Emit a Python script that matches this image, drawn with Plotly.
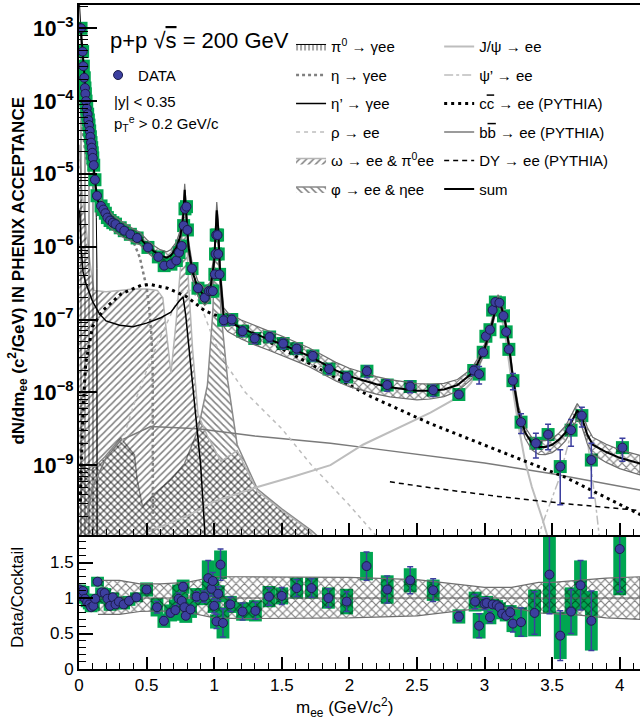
import numpy as np
import plotly.graph_objects as go

# ---------------- top panel: measured yield (log10 of dN/dm) ----------------
data_x = [0.015, 0.027, 0.032, 0.039, 0.044, 0.047, 0.052, 0.057, 0.064, 0.069,
          0.074, 0.079, 0.084, 0.089, 0.094, 0.098, 0.102, 0.109, 0.118, 0.133,
          0.163, 0.18, 0.195, 0.21, 0.23, 0.25, 0.27, 0.305, 0.335, 0.38,
          0.43, 0.51, 0.587, 0.63, 0.68, 0.72, 0.74, 0.76, 0.774, 0.784,
          0.795, 0.802, 0.836, 0.88, 0.93, 0.96, 0.975, 0.99, 1.005, 1.01,
          1.015, 1.025, 1.03, 1.04, 1.07, 1.13, 1.21, 1.30, 1.41, 1.51,
          1.61, 1.73, 1.85, 1.98, 2.13, 2.28, 2.45, 2.62, 2.81, 2.92,
          2.96, 2.99, 3.01, 3.04, 3.06, 3.08, 3.11, 3.14, 3.16, 3.18,
          3.21, 3.27, 3.38, 3.47, 3.56, 3.64, 3.72, 3.79, 4.02]
data_log10 = [-3.00, -3.32, -3.52, -3.68, -3.82, -3.90, -4.00, -4.10, -4.18, -4.26,
              -4.33, -4.41, -4.49, -4.57, -4.64, -4.71, -4.78, -4.88, -5.08, -5.30,
              -5.44, -5.49, -5.54, -5.60, -5.64, -5.67, -5.69, -5.74, -5.78, -5.83,
              -5.88, -6.01, -6.14, -6.26, -6.24, -6.19, -6.08, -5.99, -5.71, -5.48,
              -5.45, -5.77, -6.30, -6.57, -6.70, -6.61, -6.61, -6.61, -6.38, -6.10,
              -5.84, -5.84, -6.10, -6.38, -7.01, -7.00, -7.16, -7.26, -7.24, -7.33,
              -7.40, -7.50, -7.68, -7.79, -7.71, -7.90, -7.92, -7.97, -8.03, -7.70,
              -7.75, -7.45, -7.23, -7.14, -6.87, -6.76, -6.77, -6.95, -7.17, -7.41,
              -7.84, -8.41, -8.70, -8.58, -9.02, -8.52, -8.32, -8.93, -8.76]
data_relerr = [0.03] * 31 + [0.06] * 17 + [0.08] * 6 + \
              [0.15] * 10 + [0.18] * 4 + [0.08, 0.15,
               0.27, 0.10, 0.06, 0.06, 0.06, 0.06, 0.06, 0.06, 0.06, 0.08,
               0.25, 0.30, 0.37, 0.38, 0.70, 0.40, 0.30, 0.70, 0.35]

# ---------------- cocktail components (log10 of dN/dm) ----------------
pi0_x = [0.002, 0.01, 0.02, 0.03, 0.05, 0.07, 0.09, 0.11, 0.12, 0.128, 0.133, 0.135]
pi0_log10 = [-2.6, -2.95, -3.3, -3.6, -4.0, -4.3, -4.6, -4.95, -5.2, -5.6, -6.3, -11]

eta_x = [0.005, 0.02, 0.05, 0.1, 0.15, 0.2, 0.25, 0.3, 0.35, 0.4, 0.45, 0.5, 0.52, 0.535, 0.545, 0.548]
eta_log10 = [-3.7, -4.3, -4.75, -5.15, -5.42, -5.57, -5.66, -5.72, -5.8, -5.92, -6.15, -6.56, -6.85, -7.2, -7.6, -11]

etap_x = [0.005, 0.015, 0.03, 0.05, 0.1, 0.15, 0.2, 0.3, 0.4, 0.5, 0.6, 0.68, 0.74, 0.77,
          0.79, 0.82, 0.86, 0.9, 0.93, 0.95]
etap_log10 = [-5.5, -6.0, -6.35, -6.5, -6.75, -6.92, -7.02, -7.08, -7.1, -7.05, -6.98, -6.9,
              -6.75, -6.69, -6.95, -7.5, -8.2, -9.0, -9.9, -11]

rho_x = [0.3, 0.4, 0.5, 0.6, 0.7, 0.75, 0.78, 0.84, 0.9, 1.0, 1.1, 1.23, 1.5, 1.72, 2.0, 2.16, 2.4]
rho_log10 = [-8.8, -8.2, -7.7, -7.25, -6.85, -6.65, -6.6, -6.6, -6.8, -7.3, -7.65, -8.0, -8.5,
             -9.0, -9.55, -9.9, -10.4]

omega_x = [0.002, 0.02, 0.05, 0.08, 0.11, 0.2, 0.3, 0.4, 0.5, 0.58, 0.62, 0.65, 0.68, 0.72,
           0.75, 0.77, 0.782, 0.795, 0.81, 0.84, 0.88, 0.95, 1.05, 1.17, 1.32, 1.5, 1.72]
omega_log10 = [-4.6, -5.2, -5.7, -6.2, -6.6, -6.62, -6.6, -6.58, -6.58, -6.6, -6.7, -7.2, -7.74,
               -7.0, -6.3, -5.6, -5.3, -5.8, -6.5, -7.4, -8.3, -8.6, -8.95, -8.8, -9.36, -9.62, -9.92]

phi_x = [0.002, 0.09, 0.19, 0.31, 0.41, 0.43, 0.47, 0.56, 0.68, 0.78, 0.88, 0.95, 0.99, 1.005,
         1.019, 1.033, 1.05, 1.1, 1.17, 1.32, 1.5, 1.72, 1.9]
phi_log10 = [-9.0, -9.07, -8.89, -8.63, -8.86, -9.2, -9.57, -9.39, -9.2, -8.98, -8.52, -7.9,
             -6.9, -6.0, -5.5, -6.0, -6.9, -7.84, -8.72, -9.33, -9.6, -9.9, -10.2]

jpsi_x = [0.5, 0.8, 1.0, 1.32, 1.6, 1.86, 2.1, 2.4, 2.6, 2.8, 2.9, 2.98, 3.03, 3.07, 3.097,
          3.12, 3.16, 3.2, 3.25, 3.3, 3.35, 3.43, 3.5]
jpsi_log10 = [-9.92, -9.7, -9.5, -9.3, -9.15, -9.0, -8.72, -8.45, -8.28, -8.07, -7.87, -7.55,
              -7.2, -6.9, -6.8, -6.9, -7.3, -7.85, -8.45, -8.95, -9.3, -9.75, -10.2]

psip_x = [3.3, 3.44, 3.55, 3.62, 3.66, 3.686, 3.71, 3.76, 3.82, 3.88]
psip_log10 = [-10.5, -9.75, -9.2, -8.7, -8.42, -8.32, -8.42, -8.65, -9.5, -10.5]

ccbar_x = [0.01, 0.03, 0.05, 0.1, 0.175, 0.31, 0.46, 0.53, 0.655, 0.8, 0.93, 1.05, 1.3, 1.6,
           2.0, 2.16, 2.6, 3.1, 3.59, 4.13, 4.2]
ccbar_log10 = [-9.5, -8.2, -7.6, -7.1, -6.88, -6.65, -6.53, -6.52, -6.57, -6.69, -6.88, -6.97,
               -7.2, -7.5, -7.9, -8.06, -8.43, -8.8, -9.16, -9.66, -9.72]

bbbar_x = [0.05, 0.1, 0.2, 0.31, 0.53, 0.88, 1.3, 1.86, 2.16, 2.46, 3.0, 3.5, 4.13, 4.2]
bbbar_log10 = [-9.8, -9.3, -8.9, -8.66, -8.47, -8.50, -8.6, -8.70, -8.77, -8.84, -8.97, -9.12,
               -9.34, -9.36]

dy_x = [2.3, 2.6, 3.1, 3.6, 4.13, 4.2]
dy_log10 = [-9.23, -9.31, -9.43, -9.53, -9.62, -9.63]

sum_x = [0.01, 0.02, 0.03, 0.04, 0.05, 0.06, 0.07, 0.08, 0.09, 0.1, 0.11, 0.12, 0.13, 0.14,
         0.16, 0.2, 0.25, 0.3, 0.35, 0.4, 0.45, 0.5, 0.55, 0.6, 0.65, 0.68, 0.72, 0.75, 0.77,
         0.782, 0.795, 0.81, 0.84, 0.88, 0.93, 0.97, 1.0, 1.01, 1.019, 1.03, 1.045, 1.07, 1.1,
         1.2, 1.3, 1.4, 1.5, 1.6, 1.7, 1.8, 1.9, 2.0, 2.1, 2.2, 2.3, 2.4, 2.5, 2.6, 2.7, 2.8,
         2.9, 2.95, 3.0, 3.05, 3.08, 3.1, 3.12, 3.15, 3.18, 3.21, 3.25, 3.3, 3.35, 3.4, 3.45,
         3.5, 3.55, 3.6, 3.65, 3.686, 3.72, 3.76, 3.8, 3.9, 4.0, 4.15]
sum_log10 = [-2.92, -3.15, -3.45, -3.66, -3.95, -4.12, -4.27, -4.42, -4.57, -4.75, -4.93, -5.1,
             -5.27, -5.37, -5.44, -5.55, -5.66, -5.73, -5.79, -5.84, -5.88, -5.98, -6.06, -6.12,
             -6.15, -6.12, -6.02, -5.85, -5.6, -5.22, -5.6, -6.0, -6.35, -6.57, -6.68, -6.6,
             -6.2, -5.75, -5.5, -5.75, -6.4, -6.95, -7.02, -7.12, -7.2, -7.27, -7.34, -7.42, -7.5,
             -7.6, -7.7, -7.78, -7.84, -7.89, -7.93, -7.96, -7.98, -7.98, -7.96, -7.9, -7.75,
             -7.6, -7.4, -7.1, -6.85, -6.72, -6.8, -7.0, -7.35, -7.8, -8.25, -8.55, -8.7, -8.75,
             -8.75, -8.72, -8.65, -8.55, -8.38, -8.25, -8.35, -8.58, -8.72, -8.82, -8.9, -8.98]

# ---------------- bottom panel: Data/Cocktail ----------------
ratio_x = [0.005, 0.015, 0.03, 0.045, 0.06, 0.076, 0.09, 0.106, 0.12, 0.137,
           0.167, 0.19, 0.21, 0.23, 0.25, 0.27, 0.295, 0.33, 0.37, 0.425,
           0.5, 0.577, 0.628, 0.677, 0.713, 0.737, 0.76, 0.77, 0.78, 0.79,
           0.825, 0.87, 0.925, 0.956, 0.98, 0.99, 1.0, 1.017, 1.03, 1.047,
           1.065, 1.12, 1.21, 1.305, 1.405, 1.5, 1.61, 1.72, 1.845, 1.98,
           2.127, 2.28, 2.45, 2.62, 2.81, 2.93, 2.96, 3.0, 3.015, 3.04,
           3.06, 3.09, 3.11, 3.13, 3.16, 3.19, 3.21, 3.27, 3.37, 3.48,
           3.56, 3.64, 3.71, 3.79, 4.0]
ratio_val = [1.12, 1.03, 1.10, 0.99, 0.94, 0.91, 0.87, 0.89, 0.99, 1.23,
             1.08, 1.07, 0.99, 0.89, 1.01, 0.91, 0.95, 0.91, 0.96, 1.01,
             1.12, 0.87, 0.68, 0.79, 0.83, 0.99, 0.96, 1.16, 0.87, 0.75,
             0.84, 1.02, 1.02, 1.28, 1.13, 1.24, 0.89, 0.67, 1.06, 1.47,
             0.65, 0.91, 0.81, 0.82, 1.02, 1.03, 1.14, 1.14, 1.00, 0.95,
             1.45, 1.12, 1.25, 1.11, 0.74, 0.95, 0.61, 0.92, 0.93, 0.73,
             0.91, 0.90, 0.87, 0.78, 0.75, 0.80, 0.64, 0.66, 0.79, 1.33,
             0.47, 0.81, 1.18, 0.68, 1.69]
ratio_stat = [0.03] * 20 + [0.05, 0.08, 0.06, 0.05, 0.06, 0.08, 0.05, 0.06, 0.05, 0.05,
              0.06, 0.07, 0.08, 0.25, 0.1, 0.12, 0.1, 0.1, 0.1, 0.22,
              0.2, 0.1, 0.12, 0.12, 0.12, 0.12, 0.12, 0.13, 0.13, 0.14,
              0.2, 0.19, 0.19, 0.16, 0.07, 0.1, 0.17, 0.08, 0.07, 0.08,
              0.05, 0.04, 0.04, 0.05, 0.05, 0.07, 0.12, 0.2, 0.3, 0.55,
              0.35, 0.31, 0.35, 0.42, 0.6]
ratio_sys = [0.07] * 20 + [0.1, 0.13, 0.1, 0.12, 0.15, 0.2, 0.1, 0.1, 0.12, 0.1,
             0.12, 0.12, 0.12, 0.25, 0.12, 0.15, 0.1, 0.1, 0.12, 0.2,
             0.22, 0.12, 0.13, 0.15, 0.15, 0.12, 0.15, 0.15, 0.15, 0.18,
             0.2, 0.2, 0.17, 0.15, 0.1, 0.14, 0.18, 0.1, 0.1, 0.1,
             0.08, 0.07, 0.07, 0.08, 0.08, 0.1, 0.12, 0.21, 0.33, 0.55,
             0.33, 0.34, 0.35, 0.42, 0.65]

band_x = [0.14, 0.3, 0.45, 0.6, 0.8, 1.0, 1.2, 1.5, 2.0, 2.5, 2.8, 3.0, 3.2, 3.3, 3.4, 3.5, 3.7, 3.9, 4.15]
band_hi = [1.25, 1.25, 1.2, 1.2, 1.22, 1.3, 1.3, 1.3, 1.29, 1.26, 1.19, 1.15, 1.15, 1.18, 1.22, 1.22, 1.25, 1.28, 1.3]
band_lo = [0.77, 0.77, 0.81, 0.82, 0.8, 0.72, 0.71, 0.71, 0.72, 0.75, 0.82, 0.86, 0.86, 0.83, 0.79, 0.78, 0.76, 0.72, 0.7]

# ---------------- styling ----------------
FLOOR = 1e-11
GREEN = "#00a651"
BLUE = "#3c3f9f"
FONT = "Liberation Sans, Arial, Helvetica, sans-serif"


def lin(a):
    return 10 ** np.asarray(a, dtype=float)


def area(x, lg):
    xs = list(x) + [x[-1], x[0]]
    ys = list(lin(lg)) + [FLOOR, FLOOR]
    return xs, ys


fig = go.Figure()
TOP = dict(xaxis="x", yaxis="y")
BOT = dict(xaxis="x2", yaxis="y2")


def hatch(shape, size=5, sol=0.3, bg="rgba(0,0,0,0)"):
    return dict(shape=shape, fgcolor="black", bgcolor=bg, size=size, solidity=sol, fillmode="overlay")


# phi region
xs, ys = area(phi_x, phi_log10)
fig.add_trace(go.Scatter(x=xs, y=ys, mode="lines", fill="toself", fillcolor="rgba(0,0,0,0)",
                         fillpattern=hatch("\\"), line=dict(color="#8a8a8a", width=1.5),
                         name="\u03c6 \u2192 ee & \u03b7ee", legend="legend", legendrank=6,
                         legendgroup="phi", **TOP))
# omega region
xs, ys = area(omega_x, omega_log10)
fig.add_trace(go.Scatter(x=xs, y=ys, mode="lines", fill="toself", fillcolor="rgba(0,0,0,0)",
                         fillpattern=hatch("/"), line=dict(color="#b5b5b5", width=1.5),
                         name="\u03c9 \u2192 ee & \u03c0<sup>0</sup>ee", legend="legend", legendrank=5,
                         legendgroup="omega", **TOP))
# pi0 region
xs, ys = area(pi0_x, pi0_log10)
fig.add_trace(go.Scatter(x=xs, y=ys, mode="lines", fill="toself", fillcolor="rgba(0,0,0,0)",
                         fillpattern=hatch("|", size=4, sol=0.35), line=dict(color="black", width=1),
                         name="\u03c0<sup>0</sup> \u2192 \u03b3ee", legend="legend", legendrank=1,
                         legendgroup="pi0", **TOP))


def curve(x, lg, name, color, width, dash, legend, rank, grp):
    fig.add_trace(go.Scatter(x=x, y=lin(lg), mode="lines", name=name,
                             line=dict(color=color, width=width, dash=dash),
                             legend=legend, legendrank=rank, legendgroup=grp, **TOP))


curve(bbbar_x, bbbar_log10, "b<span style='text-decoration:overline'>b</span> \u2192 ee (PYTHIA)",
      "#7a7a7a", 1.5, "solid", "legend2", 4, "bb")
curve(jpsi_x, jpsi_log10, "J/\u03c8 \u2192 ee", "#bdbdbd", 2, "solid", "legend2", 1, "jpsi")
curve(psip_x, psip_log10, "\u03c8\u2019 \u2192 ee", "#bdbdbd", 1.5, "dashdot", "legend2", 2, "psip")
curve(rho_x, rho_log10, "\u03c1 \u2192 ee", "#bdbdbd", 1.5, "4px,4px", "legend", 4, "rho")
curve(eta_x, eta_log10, "\u03b7 \u2192 \u03b3ee", "#808080", 2.5, "3px,3px", "legend", 2, "eta")
curve(etap_x, etap_log10, "\u03b7\u2019 \u2192 \u03b3ee", "black", 1.5, "solid", "legend", 3, "etap")
curve(ccbar_x, ccbar_log10, "c<span style='text-decoration:overline'>c</span> \u2192 ee (PYTHIA)",
      "black", 3, "3px,4px", "legend2", 3, "cc")
curve(dy_x, dy_log10, "DY \u2192 ee (PYTHIA)", "black", 1.5, "5px,4px", "legend2", 5, "dy")

# green systematic boxes (top)
data_y = lin(data_log10)
fig.add_trace(go.Scatter(x=data_x, y=data_y, mode="markers", showlegend=False,
                         marker=dict(symbol="square", size=13, color=GREEN, line=dict(width=0)), **TOP))

# sum band (top)
sx = np.asarray(sum_x)
sy = lin(sum_log10)
m = sx >= band_x[0]
hi = sy[m] * np.interp(sx[m], band_x, band_hi)
lo = sy[m] * np.interp(sx[m], band_x, band_lo)
fig.add_trace(go.Scatter(x=list(sx[m]) + list(sx[m][::-1]), y=list(hi) + list(lo[::-1]),
                         mode="lines", fill="toself", fillcolor="rgba(0,0,0,0)",
                         fillpattern=hatch("x", size=6, sol=0.35),
                         line=dict(color="#6e6e6e", width=1.2), showlegend=False, **TOP))
# sum line
fig.add_trace(go.Scatter(x=sum_x, y=sy, mode="lines", name="sum", line=dict(color="black", width=2),
                         legend="legend2", legendrank=6, legendgroup="sum", **TOP))

# data points (top)
fig.add_trace(go.Scatter(x=data_x, y=data_y, mode="markers", name="DATA",
                         marker=dict(symbol="circle", size=9, color=BLUE, line=dict(color="#1b1b4a", width=1)),
                         error_y=dict(type="data", array=data_y * np.asarray(data_relerr), color=BLUE,
                                      thickness=1.5, width=3),
                         legend="legend3", **TOP))

# ---------------- bottom panel ----------------
rv = np.asarray(ratio_val)
rs = np.asarray(ratio_sys)
fig.add_trace(go.Bar(x=ratio_x, y=2 * rs, base=rv - rs, width=0.095, marker=dict(color=GREEN, line=dict(width=0)),
                     showlegend=False, **BOT))
fig.add_trace(go.Scatter(x=list(band_x) + list(band_x[::-1]), y=list(band_hi) + list(band_lo[::-1]),
                         mode="lines", fill="toself", fillcolor="rgba(0,0,0,0)",
                         fillpattern=hatch("x", size=6, sol=0.35),
                         line=dict(color="#6e6e6e", width=1.2), showlegend=False, **BOT))
fig.add_trace(go.Scatter(x=[band_x[0], band_x[-1]], y=[1, 1], mode="lines",
                         line=dict(color="#555", width=1), showlegend=False, **BOT))
fig.add_trace(go.Scatter(x=ratio_x, y=ratio_val, mode="markers", showlegend=False,
                         marker=dict(symbol="circle", size=9, color=BLUE, line=dict(color="#1b1b4a", width=1)),
                         error_y=dict(type="data", array=ratio_stat, color=BLUE, thickness=1.5, width=3),
                         **BOT))

axis_common = dict(showline=True, linewidth=2, linecolor="black", mirror=True, showgrid=False,
                   zeroline=False, ticks="inside", tickcolor="black", automargin=False)

fig.update_layout(
    width=640, height=722,
    margin=dict(l=79, r=0, t=5, b=53, autoexpand=False),
    plot_bgcolor="white", paper_bgcolor="white",
    font=dict(family=FONT, size=15, color="black"),
    barmode="overlay",
    xaxis=dict(domain=[0, 1], range=[0, 4.15], anchor="y", showticklabels=False,
               tick0=0, dtick=0.5, ticklen=12, tickwidth=1.5,
               minor=dict(ticks="inside", dtick=0.1, ticklen=6, tickwidth=1, tickcolor="black"),
               **axis_common),
    yaxis=dict(domain=[0.2018, 1], type="log", range=[-9.96, -2.68], anchor="x",
               dtick=1, exponentformat="power", showexponent="all",
               ticklen=18, tickwidth=1.5,
               tickfont=dict(size=17, family=FONT, weight="bold"),
               minor=dict(ticks="inside", dtick="D1", ticklen=9, tickwidth=1, tickcolor="black"),
               **axis_common),
    xaxis2=dict(domain=[0, 1], range=[0, 4.15], anchor="y2",
                tick0=0, dtick=0.5, ticklen=12, tickwidth=1.5,
                tickfont=dict(size=17, family=FONT),
                minor=dict(ticks="inside", dtick=0.1, ticklen=6, tickwidth=1, tickcolor="black"),
                **axis_common),
    yaxis2=dict(domain=[0, 0.1988], range=[0, 1.86], anchor="x2",
                tick0=0, dtick=0.5, ticklen=14, tickwidth=1.5,
                tickfont=dict(size=17, family=FONT),
                minor=dict(ticks="inside", dtick=0.1, ticklen=7, tickwidth=1, tickcolor="black"),
                **axis_common),
    legend=dict(x=0.378, y=0.962, xanchor="left", yanchor="top", bgcolor="rgba(0,0,0,0)",
                traceorder="grouped", tracegroupgap=6, font=dict(size=15, family=FONT), itemwidth=30),
    legend2=dict(x=0.642, y=0.962, xanchor="left", yanchor="top", bgcolor="rgba(0,0,0,0)",
                 traceorder="grouped", tracegroupgap=6, font=dict(size=15, family=FONT), itemwidth=30),
    legend3=dict(x=0.034, y=0.919, xanchor="left", yanchor="top", bgcolor="rgba(0,0,0,0)",
                 font=dict(size=15, family=FONT), itemwidth=30),
    annotations=[
        dict(text="p+p \u221a<span style='text-decoration:overline'>s</span> = 200 GeV", x=0.0517, y=0.947,
             xref="paper", yref="paper", xanchor="left", yanchor="middle", showarrow=False,
             font=dict(size=22, family=FONT)),
        dict(text="|y| < 0.35", x=0.0588, y=0.854, xref="paper", yref="paper", xanchor="left",
             yanchor="middle", showarrow=False, font=dict(size=15, family=FONT)),
        dict(text="p<sub>T</sub><sup>e</sup> > 0.2 GeV/c", x=0.0588, y=0.821, xref="paper", yref="paper",
             xanchor="left", yanchor="middle", showarrow=False, font=dict(size=15, family=FONT)),
        dict(text="<b>dN/dm<sub>ee</sub> (c<sup>2</sup>/GeV) IN PHENIX ACCEPTANCE</b>", x=-0.1087, y=0.6,
             xref="paper", yref="paper", xanchor="center", yanchor="middle", textangle=-90,
             showarrow=False, font=dict(size=17, family=FONT)),
        dict(text="Data/Cocktail", x=-0.1087, y=0.107, xref="paper", yref="paper", xanchor="center",
             yanchor="middle", textangle=-90, showarrow=False, font=dict(size=17, family=FONT)),
        dict(text="m<sub>ee</sub> (GeV/c<sup>2</sup>)", x=0.474, y=-0.0587, xref="paper", yref="paper",
             xanchor="center", yanchor="middle", showarrow=False, font=dict(size=17, family=FONT)),
    ],
)

fig.write_html("out.html", config={"displayModeBar": False},
               post_script="document.body.style.margin='0';document.body.style.overflow='hidden';")
